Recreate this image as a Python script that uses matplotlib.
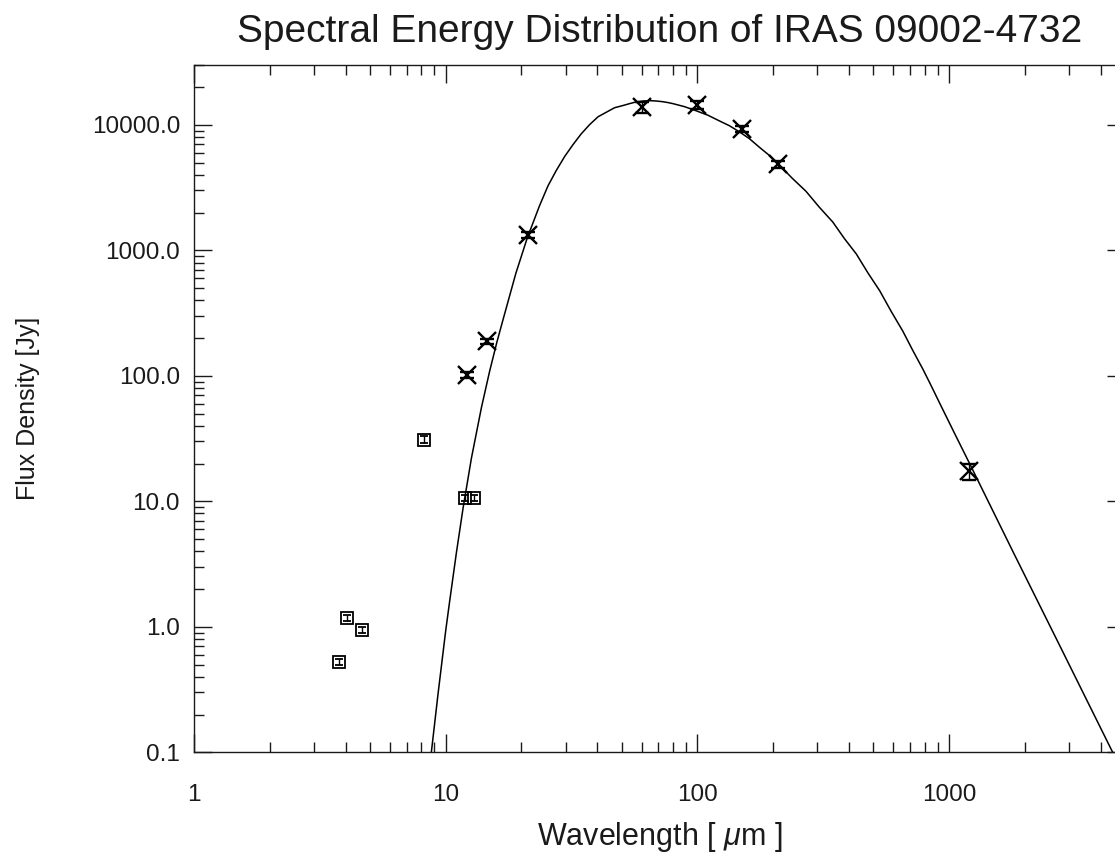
import matplotlib

matplotlib.use("Agg")
import matplotlib.pyplot as plt
from matplotlib.ticker import FixedLocator, LogLocator, NullFormatter

plt.rcParams["font.family"] = ["Liberation Sans", "DejaVu Sans"]
plt.rcParams["mathtext.fontset"] = "custom"
plt.rcParams["mathtext.it"] = "Liberation Sans:italic"
plt.rcParams["mathtext.rm"] = "Liberation Sans"

# fitted dust emission curve (wavelength in micron, flux density in Jy)
fit_wave = [8.77, 9.32, 10.0, 10.37, 11.03, 11.72, 12.65, 13.87, 14.95, 16.0,
            17.0, 19.0, 21.1, 23.6, 25.5, 27.5, 29.7, 32.0, 34.5, 37.3,
            40.3, 43.5, 46.9, 50.6, 54.0, 57.2, 61.0, 64.6, 68.5, 73.0,
            76.5, 80.0, 89.0, 99.0, 110.0, 122.5, 134.0, 147.0, 161.0, 177.0,
            193.0, 210.0, 238.0, 270.0, 305.0, 345.0, 384.0, 428.0, 476.0, 530.0,
            589.0, 655.0, 718.0, 787.0, 850.0, 916.0, 1050.0, 1205.0, 1791.0, 2662.0, 4467.0]
fit_flux = [0.10, 0.29, 0.93, 1.6, 3.9, 8.8, 22.0, 56.0, 109.0, 188.0,
            293.0, 656.0, 1260.0, 2270.0, 3270.0, 4330.0, 5600.0, 6930.0, 8450.0, 10040.0,
            11600.0, 12620.0, 13700.0, 14260.0, 14800.0, 15250.0, 15500.0, 15600.0, 15500.0, 15290.0,
            15050.0, 14760.0, 13960.0, 12940.0, 11950.0, 10740.0, 9850.0, 8790.0, 7760.0, 6590.0,
            5720.0, 4860.0, 3760.0, 2958.0, 2210.0, 1683.0, 1240.0, 936.0, 661.0, 477.0,
            326.0, 227.0, 159.0, 113.0, 83.0, 61.0, 35.0, 20.1, 4.0, 0.81, 0.10]

# space-borne / sub-mm photometry (crosses)
phot_wave = [12.1, 14.65, 21.3, 60.0, 100.0, 150.0, 210.0, 1200.0]
phot_flux = [102.0, 188.0, 1320.0, 13870.0, 14380.0, 9250.0, 4860.0, 17.3]
phot_err = [5.0, 10.0, 70.0, 1400.0, 1000.0, 500.0, 300.0, 2.6]

# ground-based photometry (squares)
gb_wave = [3.76, 4.05, 4.64, 8.2, 11.9, 12.9]
gb_flux = [0.526, 1.18, 0.946, 31.0, 10.7, 10.7]
gb_err = [0.03, 0.06, 0.05, 2.0, 0.6, 0.6]

ink = "#1a1a1a"
tick_size = 17.5

W, H = 1115, 859
fig = plt.figure(figsize=(W / 100, H / 100), dpi=100)
# right edge of the frame sits just past the canvas
left, right, top, bottom = 194, 1125, 65, 752.3
ax = fig.add_axes([left / W, 1 - bottom / H, (right - left) / W, (bottom - top) / H])

ax.plot(fit_wave, fit_flux, color="black", lw=1.1)

ax.errorbar(phot_wave, phot_flux, yerr=phot_err, fmt="x", color="black",
            ms=13.5, mew=1.7, elinewidth=1.0, capsize=5, capthick=1.0)
ax.errorbar(gb_wave, gb_flux, yerr=gb_err, fmt="s", color="black", mfc="none",
            ms=8.5, mew=1.3, elinewidth=1.0, capsize=3, capthick=1.0)

ax.set_xscale("log")
ax.set_yscale("log")
ax.set_xlim(1, 5000)
ax.set_ylim(0.1, 3e4)

ax.xaxis.set_major_locator(FixedLocator([1, 10, 100, 1000]))
ax.set_xticklabels(["1", "10", "100", "1000"])
ax.xaxis.set_minor_locator(LogLocator(base=10, subs=range(2, 10), numticks=20))
ax.xaxis.set_minor_formatter(NullFormatter())
ax.yaxis.set_major_locator(FixedLocator([0.1, 1, 10, 100, 1000, 10000]))
ax.set_yticklabels(["0.1", "1.0", "10.0", "100.0", "1000.0", "10000.0"])
ax.yaxis.set_minor_locator(LogLocator(base=10, subs=range(2, 10), numticks=20))
ax.yaxis.set_minor_formatter(NullFormatter())

ax.tick_params(which="both", direction="in", top=True, right=True, colors=ink,
               width=1.0, labelsize=tick_size)
ax.tick_params(which="major", length=13)
ax.tick_params(which="minor", length=7)
ax.tick_params(axis="x", which="major", pad=23)
ax.tick_params(axis="y", which="major", pad=10)
for sp in ax.spines.values():
    sp.set_linewidth(1.0)
    sp.set_color(ink)

ax.set_xlabel(r"Wavelength [ $\mu$m ]", fontsize=22, color=ink, va="center")
ax.xaxis.set_label_coords(0.5, -(837 - bottom) / (bottom - top))
ax.set_ylabel("Flux Density [Jy]", fontsize=18, color=ink, va="center")
ax.yaxis.set_label_coords(-(left - 28) / (right - left), 0.5)

fig.text(660 / W, 1 - 32 / H, "Spectral Energy Distribution of IRAS 09002-4732",
         ha="center", va="center", fontsize=28, color=ink)

fig.savefig("out.png", dpi=100)
plt.close(fig)
